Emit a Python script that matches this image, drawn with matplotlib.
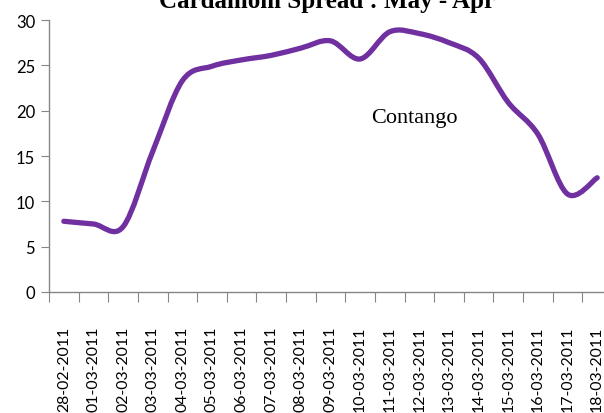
import numpy as np
import matplotlib
matplotlib.use("Agg")
from matplotlib import pyplot as plt
from matplotlib.path import Path
from matplotlib.patches import PathPatch

# spread values, one per trading day
dates = ["28-02-2011", "01-03-2011", "02-03-2011", "03-03-2011", "04-03-2011",
         "05-03-2011", "06-03-2011", "07-03-2011", "08-03-2011", "09-03-2011",
         "10-03-2011", "11-03-2011", "12-03-2011", "13-03-2011", "14-03-2011",
         "15-03-2011", "16-03-2011", "17-03-2011", "18-03-2011"]
spread = [7.8, 7.5, 7.2, 15.5, 23.3, 24.9, 25.6, 26.1, 26.9, 27.7,
          25.7, 28.7, 28.5, 27.5, 25.8, 20.9, 17.4, 10.8, 12.6]
y_ticks = [0, 5, 10, 15, 20, 25, 30]

title = "Cardamom Spread : May - Apr"
note = "Contango"

axis_grey = "#868686"
purple = "#7030A0"


def smooth_path(xs, ys):
    """Catmull-Rom style bezier through the points, like Excel's smoothed line"""
    pts = np.column_stack([xs, ys]).astype(float)
    verts = [pts[0]]
    codes = [Path.MOVETO]
    n = len(pts)
    for i in range(n - 1):
        p0 = pts[i - 1] if i > 0 else pts[i]
        p1 = pts[i]
        p2 = pts[i + 1]
        p3 = pts[i + 2] if i + 2 < n else pts[i + 1]
        c1 = p1 + (p2 - p0) / 6.0
        c2 = p2 - (p3 - p1) / 6.0
        verts += [c1, c2, p2]
        codes += [Path.CURVE4] * 3
    return Path(verts, codes)


def main():
    fig = plt.figure(figsize=(6.04, 4.14), dpi=100)
    ax = fig.add_axes([49 / 604, 121 / 414, 563 / 604, 272 / 414])

    x = np.arange(len(dates))
    patch = PathPatch(smooth_path(x, spread), facecolor="none", edgecolor=purple,
                      lw=3.8, capstyle="round", joinstyle="round")
    ax.add_patch(patch)

    ax.set_xlim(-0.5, len(dates) - 0.5)
    ax.set_ylim(0, 30)

    for side in ["top", "right"]:
        ax.spines[side].set_visible(False)
    for side in ["left", "bottom"]:
        ax.spines[side].set_color(axis_grey)
        ax.spines[side].set_linewidth(1.0)

    ax.set_yticks(y_ticks)
    ax.set_yticklabels([str(v) for v in y_ticks], fontsize=12, family="Lato")
    ax.tick_params(axis="y", length=6, color=axis_grey, pad=4)

    # category boundaries get the tick marks, labels sit in the middle
    ax.set_xticks(np.arange(len(dates) + 1) - 0.5)
    ax.set_xticklabels([])
    ax.tick_params(axis="x", which="major", length=7, color=axis_grey)
    ax.set_xticks(x, minor=True)
    ax.set_xticklabels(dates, minor=True, rotation=90, fontsize=11.4, family="Lato")
    ax.tick_params(axis="x", which="minor", length=0, pad=24)

    ax.text(11.82, 19.3, note, fontsize=16, family="Liberation Serif",
            ha="center", va="center")

    fig.text(327 / 604, 1 - 8 / 414, title, fontsize=18, fontweight="bold",
             family="Liberation Serif", ha="center", va="baseline")

    fig.savefig("out.png", dpi=100)


if __name__ == "__main__":
    main()
